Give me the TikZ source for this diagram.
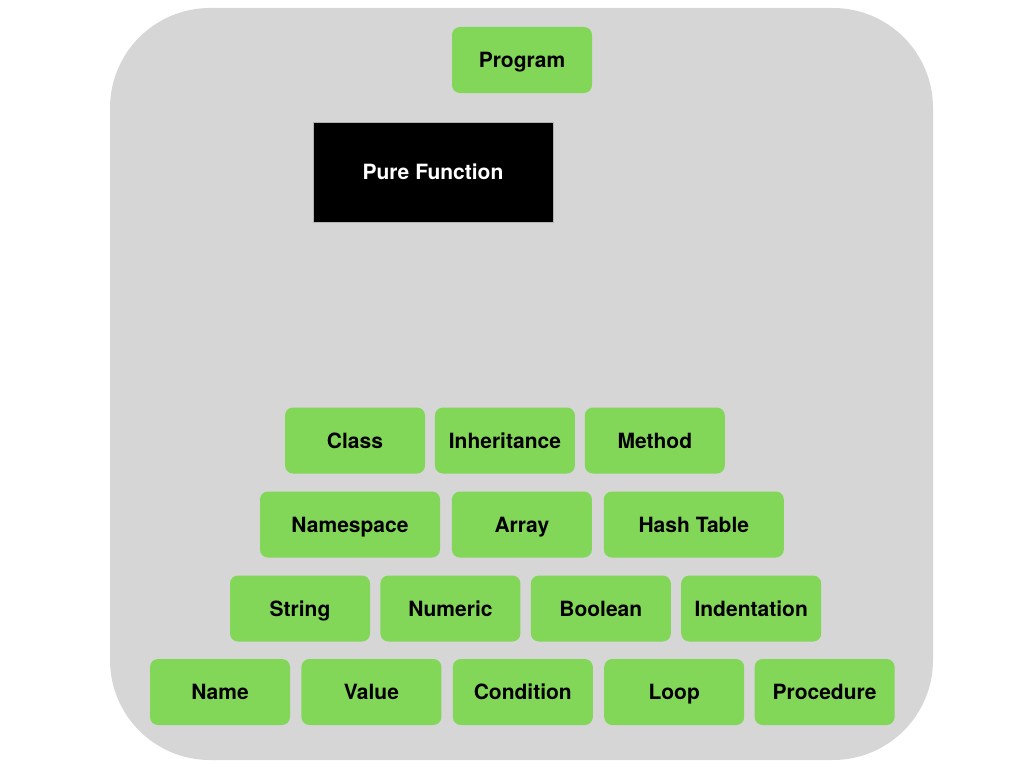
\documentclass[tikz,border=0pt]{standalone}
\usepackage{fontspec}
\setmainfont{TeX Gyre Heros}
\usetikzlibrary{positioning}
\definecolor{panelgray}{RGB}{214,214,214}
\definecolor{termgreen}{RGB}{131,215,88}

\begin{document}
\begin{tikzpicture}[
            x=1pt, y=-1pt,
            node distance=11pt,
            base/.style = {rectangle, inner sep=0pt, text centered, text height=15pt, text depth=0pt, font=\fontsize{21}{25}\selectfont\bfseries},
            term/.style = {base, fill=termgreen, rounded corners=8pt, minimum width=140pt, minimum height=66pt},
            wide/.style = {term, minimum width=180pt},
            pure/.style = {base, fill=black, draw=gray!60, thin, text=white, minimum width=240pt, minimum height=100pt}
        ]

            \useasboundingbox (0,0) rectangle (1024,768);

            % --- 1. Background panel ---
            \fill [panelgray, rounded corners=100pt] (110,8) rectangle (933,760);

            % --- 2. Top ---
            \node [term] (program) at (522,60) {Program};
            \node [pure] (purefn) at (433,172) {Pure Function};

            % --- 3. Rows, bottom up ---
            \node [term] (name) at (220,692) {Name};
            \node [term, right=of name] (value) {Value};
            \node [term, right=of value] (condition) {Condition};
            \node [term, right=of condition] (loop) {Loop};
            \node [term, right=10pt of loop] (procedure) {Procedure};

            \node [term] (string) at (300,608.5) {String};
            \node [term, right=10pt of string] (numeric) {Numeric};
            \node [term, right=10pt of numeric] (boolean) {Boolean};
            \node [term, right=10pt of boolean] (indent) {Indentation};

            \node [wide] (namespace) at (350,524.5) {Namespace};
            \node [term, right=11.5pt of namespace] (array) {Array};
            \node [wide, right=11.5pt of array] (hashtable) {Hash Table};

            \node [term] (class) at (355,440.5) {Class};
            \node [term, right=9.5pt of class] (inherit) {Inheritance};
            \node [term, right=9.5pt of inherit] (method) {Method};

        \end{tikzpicture}
\end{document}
